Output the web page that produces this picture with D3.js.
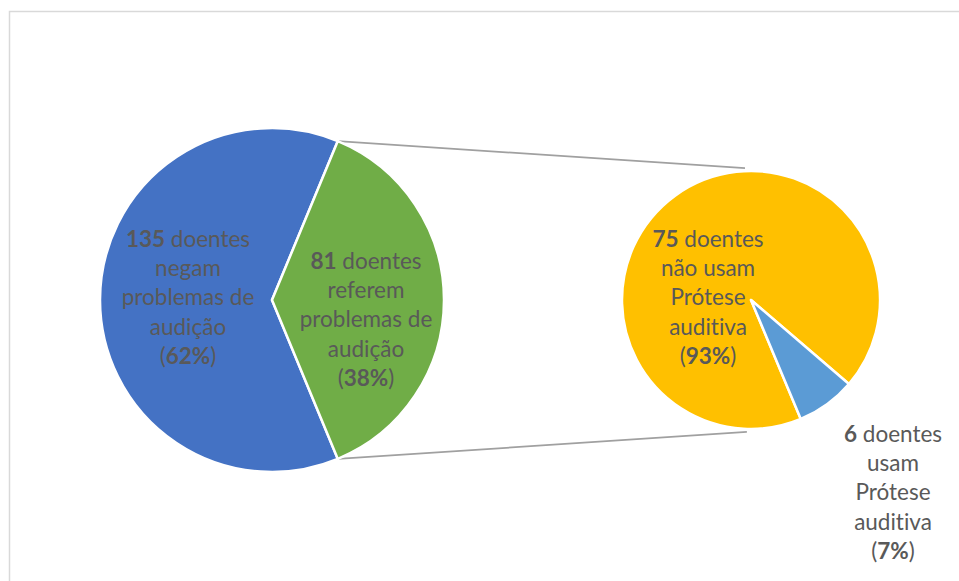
<!DOCTYPE html>
<html>
<head>
<meta charset="utf-8">
<script src="https://cdn.jsdelivr.net/npm/d3@7"></script>
<style>
  html, body { margin: 0; padding: 0; background: #fff; }
  svg { display: block; }
  text { font-variant-ligatures: none; font-feature-settings: "liga" 0; }
</style>
</head>
<body>
<svg id="chart" width="959" height="581"></svg>
<script>
// Main pie: patients reporting / denying hearing problems
const mainCategories = ["negam problemas de audição", "referem problemas de audição"];
const mainValues = [135, 81];
const mainPercents = ["62%", "38%"];
const mainLabelLines = [
  ["doentes", "negam", "problemas de", "audição"],
  ["doentes", "referem", "problemas de", "audição"]
];

// Secondary pie: split of those who report problems
const subCategories = ["não usam Prótese auditiva", "usam Prótese auditiva"];
const subValues = [75, 6];
const subPercents = ["93%", "7%"];
const subLabelLines = [
  ["doentes", "não usam", "Prótese", "auditiva"],
  ["doentes", "usam", "Prótese", "auditiva"]
];

const mainColors = ["#4472C4", "#70AD47"];
const subColors = ["#FFC000", "#5B9BD5"];

const svg = d3.select("#chart");
const W = 959, H = 581;

// chart area frame
svg.append("rect")
  .attr("x", 9.5).attr("y", 11.5)
  .attr("width", W).attr("height", H)
  .attr("fill", "none")
  .attr("stroke", "#d9d9d9")
  .attr("stroke-width", 1.5);

const deg = Math.PI / 180;

// --- main pie ---
const mainC = { x: 272, y: 300 }, mainR = 172;
const mainStart = 157.5 * deg;
const mainPie = d3.pie().sort(null).value(d => d)
  .startAngle(mainStart).endAngle(mainStart + 2 * Math.PI);
const mainArcs = mainPie(mainValues);
const mainArc = d3.arc().innerRadius(0).outerRadius(mainR);

// --- secondary pie ---
const subC = { x: 751, y: 300 }, subR = 129;
const subStart = 157.3 * deg;
const subPie = d3.pie().sort(null).value(d => d)
  .startAngle(subStart).endAngle(subStart + 2 * Math.PI);
const subArcs = subPie(subValues);
const subArc = d3.arc().innerRadius(0).outerRadius(subR);

// connector lines from the split slice to the secondary pie
const split = mainArcs[1];
const pt = (c, r, a) => [c.x + r * Math.sin(a), c.y - r * Math.cos(a)];
const connectors = [
  [pt(mainC, mainR, split.startAngle), pt(subC, subR + 3, -2.6 * deg)],
  [pt(mainC, mainR, split.endAngle), pt(subC, subR + 3, 181.8 * deg)]
];
svg.append("g").selectAll("line").data(connectors).join("line")
  .attr("x1", d => d[0][0]).attr("y1", d => d[0][1])
  .attr("x2", d => d[1][0]).attr("y2", d => d[1][1])
  .attr("stroke", "#a0a0a0")
  .attr("stroke-width", 1.8);

svg.append("g").attr("transform", `translate(${mainC.x},${mainC.y})`)
  .selectAll("path").data(mainArcs).join("path")
  .attr("d", mainArc)
  .attr("fill", (d, i) => mainColors[i])
  .attr("stroke", "#fff")
  .attr("stroke-width", 2.5)
  .attr("stroke-linejoin", "round");

svg.append("g").attr("transform", `translate(${subC.x},${subC.y})`)
  .selectAll("path").data(subArcs).join("path")
  .attr("d", subArc)
  .attr("fill", (d, i) => subColors[i])
  .attr("stroke", "#fff")
  .attr("stroke-width", 2.5)
  .attr("stroke-linejoin", "round");

// --- data labels ---
const FONT = "Lato, 'Open Sans', sans-serif";
const LINE = 29.2;
function label(x, yFirst, value, lines, pct) {
  const t = svg.append("text")
    .attr("text-anchor", "middle")
    .attr("font-family", FONT)
    .attr("font-size", 22.5)
    .attr("fill", "#595959");
  const first = t.append("tspan").attr("x", x).attr("y", yFirst);
  first.append("tspan").attr("font-weight", "bold").text(value);
  first.append("tspan").text(" " + lines[0]);
  lines.slice(1).forEach((l, i) => {
    t.append("tspan").attr("x", x).attr("y", yFirst + LINE * (i + 1)).text(l);
  });
  const last = t.append("tspan").attr("x", x).attr("y", yFirst + LINE * lines.length);
  last.append("tspan").text("(");
  last.append("tspan").attr("font-weight", "bold").text(pct);
  last.append("tspan").text(")");
}

label(mainC.x - 84, 247, mainValues[0], mainLabelLines[0], mainPercents[0]);
label(mainC.x + 94, 269, mainValues[1], mainLabelLines[1], mainPercents[1]);
label(subC.x - 43, 247, subValues[0], subLabelLines[0], subPercents[0]);
label(subC.x + 142, 442, subValues[1], subLabelLines[1], subPercents[1]);
</script>
</body>
</html>
